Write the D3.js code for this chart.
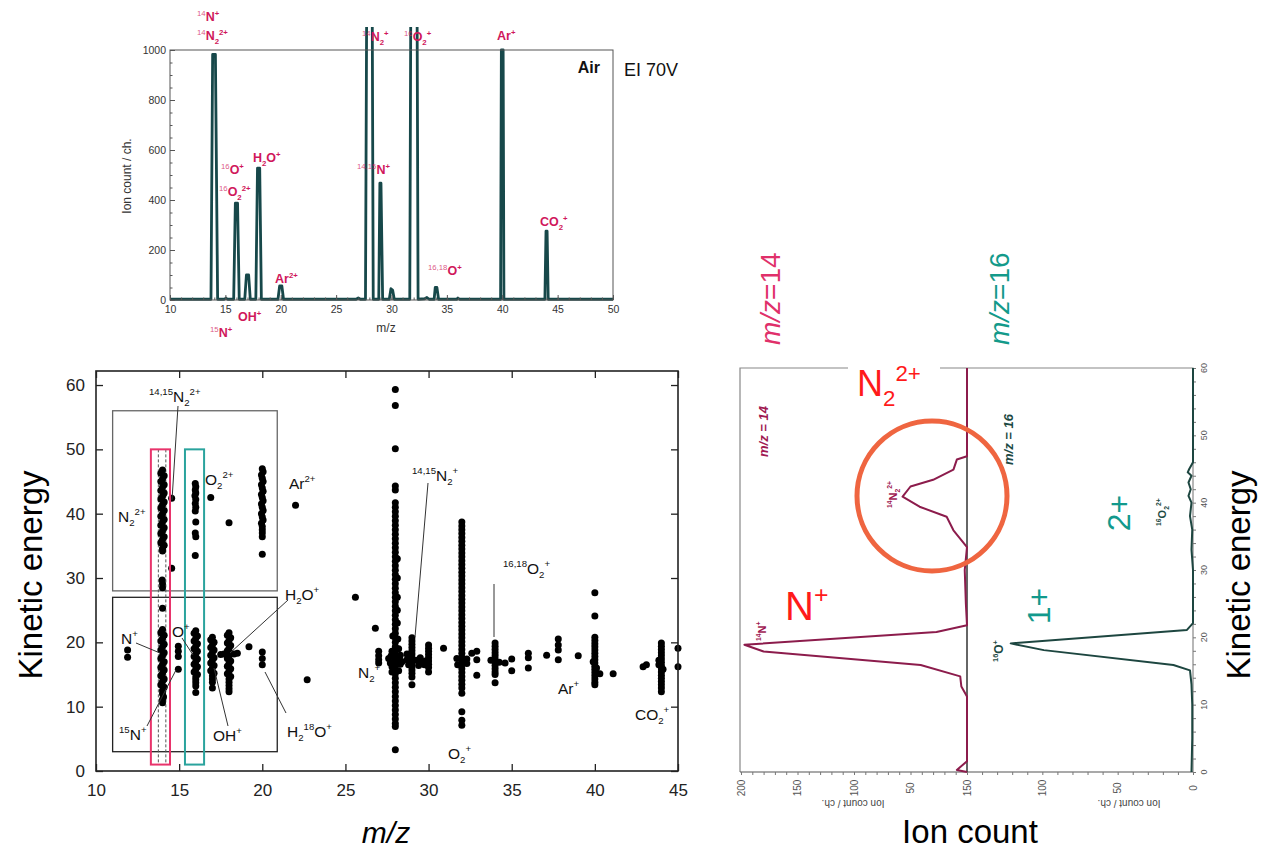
<!DOCTYPE html>
<html>
<head>
<meta charset="utf-8">
<script src="https://cdn.jsdelivr.net/npm/d3@7"></script>
<style>
  body { margin: 0; background: #fff; }
  svg { display: block; font-family: "Liberation Sans", Arial, sans-serif; }
</style>
</head>
<body>
<svg id="chart" width="1263" height="849"></svg>
<script>
// ---- top spectrum (EI 70V, air) : [m/z, ion count] vertices of the trace
var spectrum = [
  [10, 3], [13.7, 3], [13.85, 982], [14.1, 982], [14.3, 3], [14.9, 3], [15.05, 8], [15.2, 3],
  [15.75, 3], [15.9, 387], [16.1, 387], [16.25, 3], [16.75, 3], [16.9, 100], [17.1, 100], [17.25, 3],
  [17.75, 3], [17.9, 527], [18.1, 527], [18.25, 3], [19.75, 3], [19.9, 56], [20.1, 56], [20.25, 3],
  [26.8, 3], [27.0, 8], [27.2, 3], [27.65, 3], [27.77, 1300], [28.25, 1300], [28.35, 3],
  [28.85, 3], [28.95, 467], [29.05, 467], [29.2, 3], [29.8, 3], [29.95, 45], [30.1, 40], [30.25, 3],
  [31.65, 3], [31.75, 1300], [32.3, 1300], [32.4, 3], [33.0, 5], [33.2, 10], [33.4, 3],
  [33.85, 3], [33.95, 50], [34.1, 50], [34.25, 3], [35.9, 3], [36.0, 8], [36.15, 3],
  [39.85, 3], [39.92, 1000], [40.08, 1000], [40.15, 3], [43.85, 3], [43.95, 275], [44.05, 275], [44.15, 3], [50, 3]
];
var specXTicks = [10, 15, 20, 25, 30, 35, 40, 45, 50];
var specYTicks = [0, 200, 400, 600, 800, 1000];

// ---- kinetic energy vs m/z scatter : [m/z, KE]
var ptsN2pp = [[14.0,46.8],[13.9,46.3],[14.1,45.9],[14.0,45.4],[13.9,45.0],[14.1,44.5],[14.0,44.1],[13.9,43.6],[14.1,43.2],[14.0,42.7],[13.9,42.3],[14.1,41.8],[14.0,41.4],[13.9,40.9],[14.1,40.5],[14.0,40.0],[13.9,39.6],[14.1,39.1],[14.0,38.7],[13.9,38.2],[14.1,37.8],[14.0,37.3],[13.9,36.9],[14.1,36.4],[14.0,36.0],[13.9,35.5],[14.1,35.1],[14.0,34.6],[14.0,34.2],[13.98,29.7],[14.0,29.1],[14.0,28.5],[14.0,25.3]];
var pts1415N2pp = [[14.55,42.4],[14.55,31.5]];
var ptsNp = [[14.0,22.0],[13.9,21.5],[14.1,21.1],[14.0,20.6],[13.9,20.2],[14.1,19.7],[14.0,19.3],[13.9,18.8],[14.1,18.4],[14.0,17.9],[13.9,17.5],[14.1,17.0],[14.0,16.6],[13.9,16.1],[14.1,15.7],[14.0,15.2],[13.9,14.8],[14.1,14.3],[14.0,13.9],[13.9,13.4],[14.1,13.0],[14.0,12.5],[14.0,12.0],[14.06,11.5],[14.0,11.1],[14.0,10.6]];
var pts12 = [[11.9,18.8],[11.9,17.7]];
var pts15Np = [[14.95,19.4],[14.95,18.6],[14.95,17.8],[14.95,15.8]];
var ptsO2pp = [[15.97,44.7],[16.0,44.2],[15.97,43.7],[16.0,43.2],[15.95,42.8],[16.0,42.2],[15.97,41.6],[16.0,41.0],[15.97,40.4],[16.0,38.7],[15.97,37.0],[16.0,36.4],[15.97,33.5],[16.9,42.5]];
var ptsOp = [[16.0,21.8],[15.9,21.4],[16.1,21.0],[16.0,20.6],[15.9,20.2],[16.1,19.8],[16.0,19.4],[15.9,19.0],[16.1,18.6],[16.0,18.2],[15.9,17.8],[16.1,17.4],[16.0,17.0],[15.9,16.6],[16.1,16.2],[16.0,15.8],[15.9,15.4],[16.1,15.0],[16.0,14.6],[16.0,14.2],[16.0,13.7],[16.0,13.2],[16.0,12.2]];
var ptsOHp = [[17.0,20.8],[16.9,20.4],[17.1,20.0],[17.0,19.6],[16.9,19.2],[17.1,18.8],[17.0,18.4],[16.9,18.0],[17.1,17.6],[17.0,17.2],[16.9,16.8],[17.1,16.4],[17.0,16.0],[16.9,15.6],[17.1,15.2],[17.0,14.8],[17.0,14.3],[17.0,13.8],[17.0,12.9]];
var ptsH2Op = [[18.0,21.5],[17.9,21.1],[18.1,20.7],[18.0,20.3],[17.9,19.9],[18.1,19.5],[18.0,19.1],[17.9,18.7],[18.1,18.3],[18.0,17.9],[17.9,17.5],[18.1,17.1],[18.0,16.7],[17.9,16.3],[18.1,15.9],[18.0,15.5],[17.9,15.1],[18.1,14.7],[18.0,14.3],[18.0,13.8],[18.0,13.3],[18.0,12.8],[18.0,12.3],[17.7,18.2],[17.5,18.1],[18.3,18.2],[18.5,18.3],[18.0,38.6],[19.2,19.3]];
var ptsAr2p = [[20.0,47.0],[20.05,46.5],[19.95,46.0],[20.0,45.5],[20.05,45.0],[19.95,44.5],[20.0,44.0],[20.05,43.5],[19.95,43.0],[20.0,42.5],[20.05,42.0],[19.95,41.5],[20.0,41.0],[20.05,40.5],[19.95,40.0],[20.0,39.5],[20.05,39.0],[19.95,38.5],[20.0,38.0],[20.0,37.5],[20.0,37.0],[20.0,36.4],[20.0,33.7],[22.0,41.3]];
var ptsH218Op = [[20.0,18.5],[20.0,17.5],[20.0,16.5],[22.7,14.2]];
var ptsMisc = [[25.6,27.0],[26.8,22.2],[27.0,18.6],[27.0,17.9],[27.0,17.3],[27.0,16.8],[30.9,19.1],[32.6,18.3],[32.9,18.6],[32.9,17.3],[32.9,14.9],[34.6,16.8],[35.0,17.4],[35.0,15.6],[36.0,18.3],[36.0,17.6],[36.0,16.0],[37.1,18.0],[37.8,20.5],[37.8,19.6],[37.8,18.8],[37.8,17.3],[39.0,17.9],[40.3,15.1],[41.1,15.1],[42.9,16.2],[43.1,16.5],[45.0,19.1],[45.0,16.2]];
var ptsN2p = [[28,59.3],[28,56.8],[28,50.1],[28,44.3],[28,43.7],[28,41.7],[28,41.0],[28,40.3],[28,39.6],[28,38.9],[28,38.2],[28,37.5],[28,36.8],[28,36.1],[28,35.4],[28,34.7],[28,34.0],[28,33.3],[28,32.6],[28,31.9],[28,31.2],[28,30.5],[28,29.8],[28,29.1],[28,28.4],[28,27.7],[28,27.0],[28,26.3],[28,25.6],[28,24.9],[28,24.2],[28,23.5],[28,22.8],[28,22.1],[28,21.4],[28,20.7],[28,20.0],[28,19.3],[28,18.6],[28,17.9],[28,17.2],[28,16.5],[28,15.8],[28,15.1],[28,14.4],[28,13.7],[28,13.0],[28,12.3],[28,11.6],[28,10.9],[28,10.2],[28,9.5],[28,8.8],[28,8.1],[28,7.4],[28,6.9],[28,3.3],
  [28.12,33.0],[28.12,30.0],[28.12,27.0],[28.12,25.0],[28.12,23.0],[27.6,17.5],[27.7,16.8],[27.75,17.9],[27.8,16.2],[28.25,17.4],[28.3,16.6],[28.3,18.0],[28.4,17.0],[28.2,15.6],[27.8,15.4],[28.2,19.0],[27.8,18.6],[28.15,20.5],[27.85,21.0]];
var pts1415N2p = [[29,20.7],[29,20.2],[29,19.7],[29,19.2],[29,18.7],[29,18.2],[29,17.7],[29,17.2],[29,16.7],[29,16.2],[29,15.7],[29,15.2],[29,14.6],[29,13.4],[28.7,17.3],[28.8,16.5],[29.3,17.2],[29.4,16.4],[29.5,17.6],[29.6,16.8],[28.7,18.2],
  [30,19.6],[30,19.1],[30,18.6],[30,18.1],[30,17.6],[30,17.1],[30,16.6],[30,16.1],[30,15.4],[29.8,17.1],[29.75,16.5]];
var ptsO2p = [[32,38.7],[32,38.1],[32,37.5],[32,36.9],[32,36.3],[32,35.7],[32,35.1],[32,34.5],[32,33.9],[32,33.3],[32,32.7],[32,32.1],[32,31.5],[32,30.9],[32,30.3],[32,29.7],[32,29.1],[32,28.5],[32,27.9],[32,27.3],[32,26.7],[32,26.1],[32,25.5],[32,24.9],[32,24.3],[32,23.7],[32,23.1],[32,22.5],[32,21.9],[32,21.3],[32,20.7],[32,20.1],[32,19.5],[32,18.9],[32,18.3],[32,17.7],[32,17.1],[32,16.5],[32,15.9],[32,15.3],[32,14.7],[32,14.1],[32,13.5],[32,12.9],[32,12.1],[32,9.2],[32,7.9],[32,7.1],[31.7,17.5],[32.3,17.4],[31.75,16.5],[32.3,16.7]];
var ptsO1618p = [[34,19.9],[34,19.4],[34,18.9],[34,18.4],[34,17.9],[34,17.4],[34,16.9],[34,16.4],[34,15.9],[34,15.4],[34,15.0],[34,13.7],[33.75,17.2],[34.25,16.9]];
var ptsArp = [[40,27.7],[40,24.1],[40,20.8],[40,20.3],[40,19.8],[40,19.3],[40,18.8],[40,18.3],[40,17.8],[40,17.3],[40,16.8],[40,16.3],[40,15.8],[40,15.3],[40,14.8],[40,14.3],[40,13.8],[40,13.4],[39.9,17.0],[40.1,16.0]];
var ptsCO2p = [[44,19.9],[44,19.4],[44,18.9],[44,18.4],[44,17.9],[44,17.4],[44,16.9],[44,16.4],[44,15.9],[44,15.4],[44,14.9],[44,14.4],[44,13.9],[44,13.4],[44,12.9],[44,12.3],[43.85,16.5],[43.85,17.2],[44.1,15.8]];
var scatterXTicks = [10, 15, 20, 25, 30, 35, 40, 45];
var scatterYTicks = [0, 10, 20, 30, 40, 50, 60];

// ---- rotated KE distributions : KE and ion count
var mz14KE  = [0, 0.3, 1.6, 5, 10, 11.2, 12.7, 14.2, 15.9, 17.9, 18.9, 20.8, 21.8, 25, 30, 33.4, 35.9, 37.9, 39.4, 40.9, 42.4, 43.4, 44.9, 46.4, 46.9, 50, 55, 60];
var mz14Cnt = [0, 9, 0, 0, 0, 0, 5, 6, 41, 180, 197, 27, 0, 1, 2, 0, 12, 18, 42, 57, 50, 30, 12, 9, 0, 0, 0, 0];
var mz16KE  = [0, 5, 10, 13, 15.1, 15.9, 18.1, 19.1, 21.1, 22.1, 30, 33, 36, 38, 40, 41, 42, 43, 44, 44.5, 45, 46, 50, 60];
var mz16Cnt = [1, 0.5, 0.5, 1, 2, 13, 99, 121, 4, 0, 0, 1, 0.5, 2, 1, 3, 1.5, 3, 1, 3.5, 2.5, 0, 0, 0];
var keTicks = [0, 10, 20, 30, 40, 50, 60];
var cntTicksL = [50, 100, 150, 200];
var cntTicksR = [0, 50, 100, 150];

var svg = d3.select('#chart');
var MAG = '#d0175b', INK = '#111';

// rich text: {sup} [sub]
function rich(g, x, y, spec, o) {
  var size = o.size, t, cur = 0, m, re = /\{([^}]*)\}|\[([^\]]*)\]|([^{\[]+)/g;
  t = g.append('text').attr('x', x).attr('y', y).attr('font-size', size)
    .attr('fill', o.color || INK).attr('font-weight', o.weight || 'normal')
    .attr('text-anchor', o.anchor || 'start');
  if (o.style) t.attr('font-style', o.style);
  if (o.rotate) t.attr('transform', 'rotate(' + o.rotate + ',' + x + ',' + y + ')');
  var first = true;
  while ((m = re.exec(spec)) !== null) {
    var off = 0, fs = size, txt = m[3], ts;
    if (m[1] !== undefined) { off = -0.42 * size; fs = 0.62 * size; txt = m[1]; }
    if (m[2] !== undefined) { off = 0.28 * size; fs = 0.62 * size; txt = m[2]; }
    ts = t.append('tspan').attr('dy', off - cur).attr('font-size', fs).text(txt);
    if (first && m[1] !== undefined && o.lightPre) ts.attr('font-weight', 'normal').attr('fill-opacity', 0.75);
    cur = off;
    first = false;
  }
  return t;
}

// ================= top spectrum =================
(function() {
  var g = svg.append('g');
  var x = d3.scaleLinear().domain([10, 50]).range([170, 613]);
  var y = d3.scaleLinear().domain([0, 1000]).range([300, 50]);
  g.append('clipPath').attr('id', 'specClip').append('rect')
    .attr('x', 170).attr('y', 27).attr('width', 443).attr('height', 275);
  g.append('path').datum(spectrum)
    .attr('clip-path', 'url(#specClip)')
    .attr('d', d3.line().x(function(d) { return x(d[0]); }).y(function(d) { return y(d[1]); }))
    .attr('fill', 'none').attr('stroke', '#17484a').attr('stroke-width', 2.8).attr('stroke-linejoin', 'round');
  g.append('rect').attr('x', 170).attr('y', 50).attr('width', 443).attr('height', 250)
    .attr('fill', 'none').attr('stroke', '#555').attr('stroke-width', 1);
  g.append('g').attr('transform', 'translate(0,300)')
    .call(d3.axisBottom(x).tickValues(specXTicks).tickSize(-5).tickPadding(6).tickFormat(d3.format('d')));
  g.append('g').attr('transform', 'translate(0,300)')
    .call(d3.axisBottom(x).ticks(40).tickSize(-2.5).tickFormat(''));
  g.append('g').attr('transform', 'translate(170,0)')
    .call(d3.axisLeft(y).tickValues(specYTicks).tickSize(-5).tickPadding(4).tickFormat(d3.format('d')));
  g.append('g').attr('transform', 'translate(170,0)')
    .call(d3.axisLeft(y).ticks(20).tickSize(-2.5).tickFormat(''));
  g.selectAll('.domain').remove();
  g.selectAll('.tick line').attr('stroke', '#555');
  g.selectAll('.tick text').attr('font-size', 10.5).attr('fill', '#333').attr('font-family', 'Liberation Sans, Arial, sans-serif');
  g.append('text').attr('transform', 'translate(131,176) rotate(-90)').attr('text-anchor', 'middle')
    .attr('font-size', 12).attr('fill', '#333').text('Ion count / ch.');
  g.append('text').attr('x', 386).attr('y', 332).attr('text-anchor', 'middle')
    .attr('font-size', 12).attr('fill', '#333').text('m/z');
  g.append('text').attr('x', 600).attr('y', 73).attr('text-anchor', 'end')
    .attr('font-size', 16).attr('font-weight', 'bold').attr('fill', '#111').text('Air');
  g.append('text').attr('x', 624).attr('y', 76).attr('font-size', 18).attr('fill', '#111').text('EI 70V');
  var lo = { size: 12.5, weight: 'bold', color: MAG, lightPre: true };
  rich(g, 197, 21, '{14}N{+}', lo);
  rich(g, 197, 40, '{14}N[2]{2+}', lo);
  rich(g, 221, 174, '{16}O{+}', lo);
  rich(g, 219, 196, '{16}O[2]{2+}', lo);
  rich(g, 253, 162, 'H[2]O{+}', lo);
  rich(g, 275, 283, 'Ar{2+}', lo);
  rich(g, 238, 321, 'OH{+}', lo);
  rich(g, 210, 337, '{15}N{+}', lo);
  rich(g, 362, 41, '{14}N[2]{+}', lo);
  rich(g, 404, 41, '{16}O[2]{+}', lo);
  rich(g, 497, 40, 'Ar{+}', lo);
  rich(g, 357, 174, '{14,15}N{+}', lo);
  rich(g, 428, 275, '{16,18}O{+}', lo);
  rich(g, 540, 226, 'CO[2]{+}', lo);
})();

// ================= KE vs m/z scatter =================
(function() {
  var g = svg.append('g');
  var x = d3.scaleLinear().domain([10, 45]).range([96, 678]);
  var y = d3.scaleLinear().domain([0, 62.18]).range([771, 371]);

  // boxes and highlight columns
  function box(x0, x1, y0, y1, stroke, w) {
    g.append('rect').attr('x', x(x0)).attr('y', y(y1)).attr('width', x(x1) - x(x0)).attr('height', y(y0) - y(y1))
      .attr('fill', 'none').attr('stroke', stroke).attr('stroke-width', w);
  }
  box(11.0, 20.9, 28, 56, '#666', 1.3);
  box(11.0, 20.9, 3, 27, '#222', 1.3);
  [13.75, 14.2].forEach(function(v) {
    g.append('line').attr('x1', x(v)).attr('x2', x(v)).attr('y1', y(50)).attr('y2', y(1))
      .attr('stroke', '#555').attr('stroke-width', 1).attr('stroke-dasharray', '3,2');
  });

  var all = [].concat(ptsN2pp, pts1415N2pp, ptsNp, pts12, pts15Np, ptsO2pp, ptsOp, ptsOHp, ptsH2Op,
    ptsAr2p, ptsH218Op, ptsMisc, ptsN2p, pts1415N2p, ptsO2p, ptsO1618p, ptsArp, ptsCO2p);
  g.selectAll('circle.pt').data(all).enter().append('circle').attr('class', 'pt')
    .attr('cx', function(d) { return x(d[0]); }).attr('cy', function(d) { return y(d[1]); })
    .attr('r', 3.5).attr('fill', '#000');

  box(13.3, 14.45, 1, 50, '#e8336b', 2);
  box(15.35, 16.5, 1, 50, '#2aa39d', 2);

  g.append('rect').attr('x', 96).attr('y', 371).attr('width', 582).attr('height', 400)
    .attr('fill', 'none').attr('stroke', '#222').attr('stroke-width', 1.6);
  g.append('g').attr('transform', 'translate(0,771)')
    .call(d3.axisBottom(x).tickValues(scatterXTicks).tickSize(-7).tickPadding(13));
  g.append('g').attr('transform', 'translate(0,371)')
    .call(d3.axisTop(x).tickValues(scatterXTicks).tickSize(-7).tickFormat(''));
  g.append('g').attr('transform', 'translate(96,0)')
    .call(d3.axisLeft(y).tickValues(scatterYTicks).tickSize(-7).tickPadding(11));
  g.append('g').attr('transform', 'translate(678,0)')
    .call(d3.axisRight(y).tickValues(scatterYTicks).tickSize(-7).tickFormat(''));
  g.selectAll('.domain').remove();
  g.selectAll('.tick line').attr('stroke', '#222').attr('stroke-width', 1.3);
  g.selectAll('.tick text').attr('font-size', 17).attr('fill', '#222').attr('font-family', 'Liberation Sans, Arial, sans-serif');

  // leader lines
  var leaders = [[178,406,172,500],[288,600,230,653],[136,643,160,653],[182,638,193,655],[147,726,176,670],
    [228,726,214,668],[286,713,265,672],[428,483,415,637],[494,584,494,637]];
  g.selectAll('line.ld').data(leaders).enter().append('line').attr('class', 'ld')
    .attr('x1', function(d) { return d[0]; }).attr('y1', function(d) { return d[1]; })
    .attr('x2', function(d) { return d[2]; }).attr('y2', function(d) { return d[3]; })
    .attr('stroke', '#333').attr('stroke-width', 1);

  var lo = { size: 15.5, color: '#111' };
  rich(g, 149, 402, '{14,15}N[2]{2+}', lo);
  rich(g, 118, 522, 'N[2]{2+}', lo);
  rich(g, 205, 485, 'O[2]{2+}', lo);
  rich(g, 289, 489, 'Ar{2+}', lo);
  rich(g, 285, 600, 'H[2]O{+}', lo);
  rich(g, 121, 644, 'N{+}', lo);
  rich(g, 172, 637, 'O{+}', lo);
  rich(g, 119, 740, '{15}N{+}', lo);
  rich(g, 213, 741, 'OH{+}', lo);
  rich(g, 287, 737, 'H[2]{18}O{+}', lo);
  rich(g, 412, 481, '{14,15}N[2]{+}', lo);
  rich(g, 503, 574, '{16,18}O[2]{+}', lo);
  rich(g, 358, 678, 'N[2]{+}', lo);
  rich(g, 448, 759, 'O[2]{+}', lo);
  rich(g, 558, 694, 'Ar{+}', lo);
  rich(g, 635, 720, 'CO[2]{+}', lo);

  g.append('text').attr('transform', 'translate(30,575) rotate(-90)').attr('text-anchor', 'middle')
    .attr('dominant-baseline', 'central').attr('font-size', 33).attr('fill', '#000').text('Kinetic energy');
  g.append('text').attr('x', 386).attr('y', 843).attr('text-anchor', 'middle')
    .attr('font-size', 30).attr('font-style', 'italic').attr('fill', '#000').text('m/z');
})();

// ================= rotated KE distributions =================
(function() {
  var g = svg.append('g');
  var ke = d3.scaleLinear().domain([0, 60]).range([772, 368]);
  var cl = d3.scaleLinear().domain([0, 200]).range([967, 741]);
  var cr = d3.scaleLinear().domain([0, 150]).range([1193, 967]);

  // frame
  g.append('path').attr('d', 'M740,772V368H1193V772').attr('fill', 'none').attr('stroke', '#888').attr('stroke-width', 1.2);
  g.append('line').attr('x1', 740).attr('x2', 1193).attr('y1', 772).attr('y2', 772).attr('stroke', '#555').attr('stroke-width', 1.2);

  // count axes (bottom)
  [[cl, cntTicksL], [cr, cntTicksR]].forEach(function(p) {
    var sc = p[0];
    g.append('g').attr('transform', 'translate(0,772)')
      .call(d3.axisBottom(sc).tickValues(d3.range(0, sc.domain()[1] + 1, 10)).tickSize(3).tickFormat(''));
    p[1].forEach(function(v) {
      g.append('text').attr('transform', 'translate(' + sc(v) + ',788) rotate(-90)')
        .attr('text-anchor', 'middle').attr('dominant-baseline', 'central')
        .attr('font-size', 10).attr('fill', '#555').text(v);
    });
  });
  // KE axis (right)
  g.append('g').attr('transform', 'translate(1193,0)')
    .call(d3.axisRight(ke).ticks(30).tickSize(3).tickFormat(''));
  keTicks.forEach(function(v) {
    g.append('text').attr('transform', 'translate(1204,' + ke(v) + ') rotate(-90)')
      .attr('text-anchor', 'middle').attr('dominant-baseline', 'central')
      .attr('font-size', 9).attr('fill', '#555').text(v);
  });
  g.selectAll('.domain').remove();
  g.selectAll('.tick line').attr('stroke', '#777');

  g.append('text').attr('transform', 'translate(853,803) rotate(180)').attr('text-anchor', 'middle')
    .attr('dominant-baseline', 'central').attr('font-size', 10).attr('fill', '#444').text('Ion count / ch.');
  g.append('text').attr('transform', 'translate(1129,803) rotate(180)').attr('text-anchor', 'middle')
    .attr('dominant-baseline', 'central').attr('font-size', 10).attr('fill', '#444').text('Ion count / ch.');

  // divider
  g.append('line').attr('x1', 967).attr('x2', 967).attr('y1', 368).attr('y2', 772)
    .attr('stroke', '#333').attr('stroke-width', 1.5);

  var l14 = d3.line().x(function(d, i) { return cl(mz14Cnt[i]); }).y(function(d) { return ke(d); });
  g.append('path').datum(mz14KE).attr('d', l14).attr('fill', 'none')
    .attr('stroke', '#8c1c4c').attr('stroke-width', 2).attr('stroke-linejoin', 'round');
  var l16 = d3.line().x(function(d, i) { return cr(mz16Cnt[i]); }).y(function(d) { return ke(d); });
  g.append('path').datum(mz16KE).attr('d', l16).attr('fill', 'none')
    .attr('stroke', '#1d4640').attr('stroke-width', 2).attr('stroke-linejoin', 'round');

  // small labels of the original panels
  rich(g, 768, 457, 'm/z = 14', { size: 13, weight: 'bold', color: '#a01a52', rotate: -90, style: 'italic' });
  rich(g, 1013, 465, 'm/z = 16', { size: 13, weight: 'bold', color: '#1d4a44', rotate: -90, style: 'italic' });
  rich(g, 897, 508, '{14}N[2]{2+}', { size: 11, weight: 'bold', color: '#a01a52', rotate: -90 });
  rich(g, 766, 641, '{14}N{+}', { size: 11, weight: 'bold', color: '#a01a52', rotate: -90 });
  rich(g, 1003, 662, '{16}O{+}', { size: 12, weight: 'bold', color: '#1d4a44', rotate: -90 });
  rich(g, 1166, 526, '{16}O[2]{2+}', { size: 11, weight: 'bold', color: '#1d4a44', rotate: -90 });

  // overlay annotations
  g.append('rect').attr('x', 848).attr('y', 358).attr('width', 92).attr('height', 47).attr('fill', '#fff');
  rich(g, 857, 396, 'N[2]{2+}', { size: 36, color: '#ff1a1a' });
  g.append('circle').attr('cx', 932).attr('cy', 496).attr('r', 75)
    .attr('fill', 'none').attr('stroke', '#ef6540').attr('stroke-width', 5);
  rich(g, 785, 620, 'N{+}', { size: 40, color: '#ff1a1a' });
  g.append('text').attr('transform', 'translate(1050,606) rotate(-90)').attr('text-anchor', 'middle')
    .attr('font-size', 32).attr('fill', '#12998c').text('1+');
  g.append('text').attr('transform', 'translate(1130,513) rotate(-90)').attr('text-anchor', 'middle')
    .attr('font-size', 32).attr('fill', '#12998c').text('2+');
  g.append('text').attr('transform', 'translate(780,345) rotate(-90)').attr('font-size', 28)
    .attr('fill', '#e0306a').html('<tspan font-style="italic">m/z</tspan>=14');
  g.append('text').attr('transform', 'translate(1009,345) rotate(-90)').attr('font-size', 28)
    .attr('fill', '#139a8a').html('<tspan font-style="italic">m/z</tspan>=16');
  g.append('text').attr('transform', 'translate(1238,575) rotate(-90)').attr('text-anchor', 'middle')
    .attr('dominant-baseline', 'central').attr('font-size', 33).attr('fill', '#000').text('Kinetic energy');
  g.append('text').attr('x', 970).attr('y', 843).attr('text-anchor', 'middle')
    .attr('font-size', 33).attr('fill', '#000').text('Ion count');
})();
</script>
</body>
</html>
